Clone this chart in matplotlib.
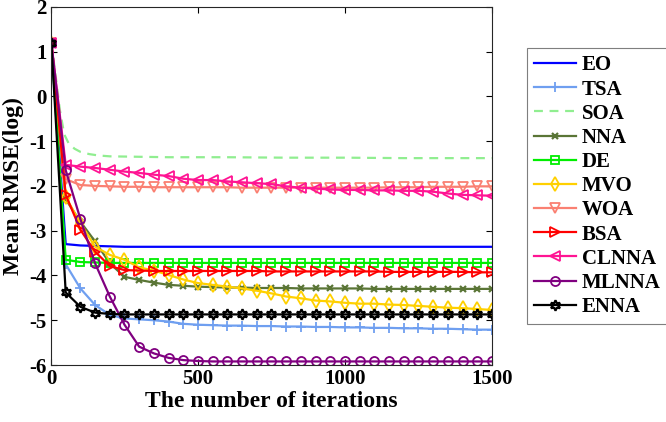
import numpy as np
import matplotlib
matplotlib.use("Agg")
import matplotlib.pyplot as plt

# 반복 횟수 (마커 간격 50)
iters = np.r_[1, np.arange(50, 1501, 50)]

eo = [1.2, -3.30, -3.33, -3.34, -3.35] + [-3.36] * 26
tsa = [1.2, -3.75, -4.29, -4.66, -4.88, -4.96, -4.98, -5.00, -5.03, -5.08, -5.10,
       -5.11, -5.12, -5.12, -5.13, -5.13, -5.14, -5.14, -5.15, -5.15, -5.16,
       -5.16, -5.17, -5.17, -5.18, -5.18, -5.19, -5.19, -5.20, -5.21, -5.21]
soa_iters = [1, 15, 30, 45, 60, 80, 100, 130, 160, 200, 300, 400, 600, 800, 1000, 1200, 1500]
soa = [1.2, 0.5, -0.3, -0.85, -1.05, -1.17, -1.24, -1.29, -1.32, -1.34, -1.35,
       -1.36, -1.36, -1.37, -1.37, -1.38, -1.38]
nna = [1.2, -2.30, -2.80, -3.24, -3.73, -4.03, -4.10, -4.16, -4.21, -4.23, -4.25,
       -4.26, -4.27, -4.27, -4.28, -4.28, -4.28] + [-4.29] * 5 + [-4.30] * 9
de = [1.2, -3.65, -3.70, -3.71] + [-3.72] * 27
mvo = [1.2, -2.25, -2.83, -3.36, -3.54, -3.65, -3.82, -3.89, -3.99, -4.09, -4.17,
       -4.21, -4.25, -4.29, -4.34, -4.40, -4.47, -4.51, -4.56, -4.58, -4.61,
       -4.63, -4.63, -4.65, -4.66, -4.68, -4.70, -4.72, -4.73, -4.75, -4.77]
woa = ([1.2, -1.85, -1.98, -2.00, -2.01] + [-2.02] * 2 + [-2.03] * 6 + [-2.04] * 10
       + [-2.03] * 3 + [-2.02] * 3 + [-2.01] * 2)
bsa = ([1.2, -2.20, -2.98, -3.47, -3.79, -3.88, -3.89] + [-3.90] * 8 + [-3.91] * 8
       + [-3.92] * 6 + [-3.93] * 2)
clnna = [1.2, -1.53, -1.57, -1.60, -1.64, -1.68, -1.71, -1.75, -1.78, -1.84, -1.87,
         -1.87, -1.90, -1.92, -1.94, -1.96, -2.01, -2.04, -2.06, -2.08, -2.09,
         -2.09, -2.10, -2.10, -2.11, -2.11, -2.13, -2.17, -2.20, -2.21, -2.22]
mlnna = [1.2, -1.65, -2.74, -3.73, -4.47, -5.10, -5.59, -5.74, -5.84, -5.89, -5.91] + [-5.92] * 20
enna = [1.2, -4.38, -4.70, -4.83, -4.86] + [-4.87] * 26

plt.rcParams["font.family"] = ["Liberation Serif", "DejaVu Serif"]
plt.rcParams["font.weight"] = "bold"
plt.rcParams["axes.unicode_minus"] = False

fig = plt.figure(figsize=(6.66, 4.22), dpi=100)
ax = fig.add_axes([0.0766, 0.135, 0.662, 0.849])

lw = 1.6
ms = 6.5
mew = 1.3
ax.plot(iters, eo, color="#0000ff", lw=lw, label="EO")
ax.plot(iters, tsa, color="#6f9ff0", lw=lw, marker="+", ms=ms + 1, mew=mew, label="TSA")
ax.plot(soa_iters, soa, color="#90ee90", lw=lw, ls=(0, (4, 3)), label="SOA")
ax.plot(iters, nna, color="#5a7536", lw=lw, marker="x", ms=5, mew=mew + 0.3, label="NNA")
ax.plot(iters, de, color="#00ee00", lw=lw, marker="s", ms=5.5, mew=mew, mfc="none", label="DE")
ax.plot(iters, mvo, color="#ffd000", lw=lw, marker="d", ms=ms + 1, mew=mew, mfc="none", label="MVO")
ax.plot(iters, woa, color="#fa8072", lw=lw, marker="v", ms=ms + 0.5, mew=mew, mfc="none", label="WOA")
ax.plot(iters, bsa, color="#ff0000", lw=lw, marker=">", ms=ms + 0.5, mew=mew, mfc="none", label="BSA")
ax.plot(iters, clnna, color="#ff1493", lw=lw, marker="<", ms=ms + 0.5, mew=mew, mfc="none", label="CLNNA")
ax.plot(iters, mlnna, color="#800080", lw=lw, marker="o", ms=ms, mew=mew, mfc="none", label="MLNNA")
ax.plot(iters, enna, color="#000000", lw=lw, marker=(6, 1, 0), ms=ms + 1, mew=mew + 0.3, mfc="none", label="ENNA")

ax.set_xlim(0, 1500)
ax.set_ylim(-6, 2)
ax.set_xticks([0, 500, 1000, 1500])
ax.set_yticks(range(-6, 3))
ax.tick_params(direction="in", top=True, right=True, labelsize=15, length=4, pad=3)
for lab in ax.get_xticklabels() + ax.get_yticklabels():
    lab.set_fontweight("bold")
for sp in ax.spines.values():
    sp.set_color("#262626")
    sp.set_linewidth(0.8)

ax.set_xlabel("The number of iterations", fontsize=17, fontweight="bold", labelpad=1)
ax.set_ylabel("Mean RMSE(log)", fontsize=17, fontweight="bold", labelpad=4)

leg = ax.legend(loc="upper left", bbox_to_anchor=(0.791, 0.886),
                bbox_transform=fig.transFigure, borderaxespad=0,
                fancybox=False, framealpha=1, edgecolor="#7f7f7f",
                prop={"size": 15, "weight": "bold"}, handlelength=2.0,
                handletextpad=0.3, labelspacing=0.2, borderpad=0.35)
leg.get_frame().set_linewidth(0.8)

fig.savefig("out.png", dpi=100)
